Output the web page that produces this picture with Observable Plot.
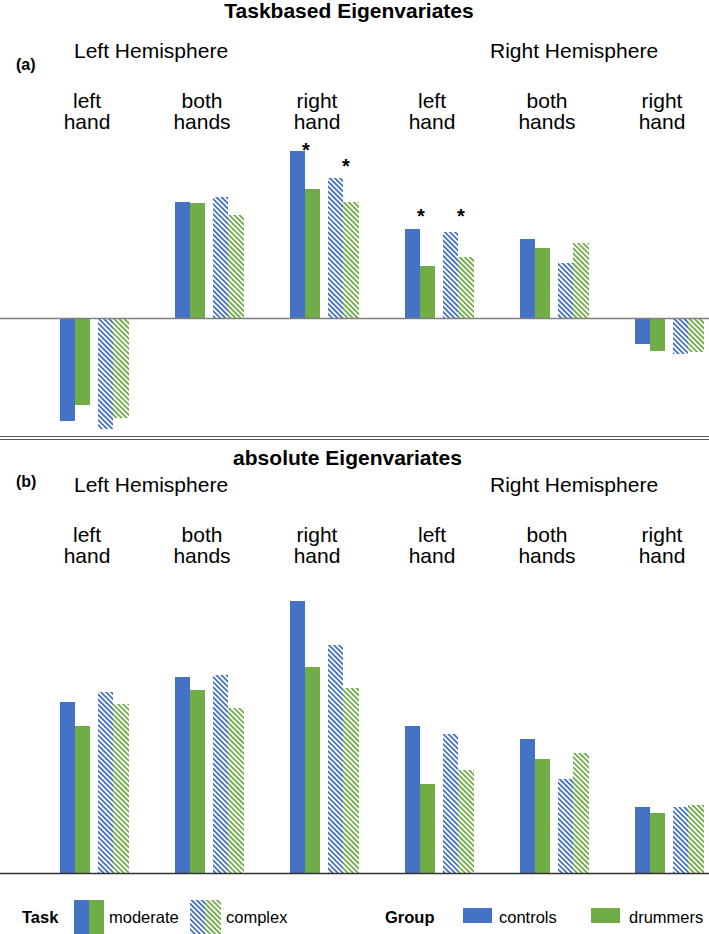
<!DOCTYPE html>
<html><head><meta charset="utf-8">
<script src="https://cdn.jsdelivr.net/npm/d3@7"></script>
<script src="https://cdn.jsdelivr.net/npm/@observablehq/plot@0.6"></script>
<style>
body{margin:0;background:#fff;overflow:hidden}
#page{position:relative;width:709px;height:934px;font-family:"Liberation Sans",Arial,Helvetica,sans-serif;color:#000;overflow:hidden}
.t{position:absolute;white-space:nowrap;line-height:1}
.b{font-weight:bold}
.panel{position:absolute;left:0}
</style></head><body>
<svg width="0" height="0" style="position:absolute">
  <defs>
    <pattern id="hatchBlue" patternUnits="userSpaceOnUse" width="3.6" height="3.6" patternTransform="rotate(-45)">
      <rect width="3.6" height="3.6" fill="#fff"/>
      <line x1="1.8" y1="-1" x2="1.8" y2="4.6" stroke="#4472C4" stroke-width="1.8"/>
    </pattern>
    <pattern id="hatchGreen" patternUnits="userSpaceOnUse" width="3.6" height="3.6" patternTransform="rotate(-45)">
      <rect width="3.6" height="3.6" fill="#fff"/>
      <line x1="1.8" y1="-1" x2="1.8" y2="4.6" stroke="#70AD47" stroke-width="1.8"/>
    </pattern>
  </defs>
</svg>
<div id="page"></div>
<script>
// ---- categories ----
const groups = ["LH left hand","LH both hands","LH right hand","RH left hand","RH both hands","RH right hand"];
const groupLabels = ["left\nhand","both\nhands","right\nhand","left\nhand","both\nhands","right\nhand"];
const tasks = ["moderate","complex"];
const cohorts = ["controls","drummers"];

// ---- (a) Taskbased Eigenvariates (arbitrary units) ----
const taskModerateControls = [-1.03, 1.16, 1.67, 0.89, 0.79, -0.26];
const taskModerateDrummers = [-0.87, 1.15, 1.29, 0.52, 0.70, -0.33];
const taskComplexControls  = [-1.11, 1.21, 1.40, 0.86, 0.55, -0.36];
const taskComplexDrummers  = [-1.00, 1.03, 1.16, 0.61, 0.75, -0.34];

// significance stars in panel (a)
const sigGroups = ["LH right hand","LH right hand","RH left hand","RH left hand"];
const sigTasks  = ["moderate","complex","moderate","complex"];
const sigValues = [1.73, 1.57, 1.07, 1.07];

// ---- (b) absolute Eigenvariates (arbitrary units) ----
const absModerateControls = [1.71, 1.96, 2.72, 1.47, 1.34, 0.66];
const absModerateDrummers = [1.47, 1.83, 2.06, 0.89, 1.14, 0.60];
const absComplexControls  = [1.81, 1.98, 2.28, 1.39, 0.94, 0.66];
const absComplexDrummers  = [1.69, 1.65, 1.85, 1.03, 1.20, 0.68];

const BLUE = "#4472C4", GREEN = "#70AD47";
const FONT = '"Liberation Sans",Arial,Helvetica,sans-serif';

function panel({series, yDomain, height, labelDy, ruleColor, stars}) {
  const styles = [
    {fill: BLUE, insetLeft: 23, insetRight: 77},
    {fill: GREEN, insetLeft: 38, insetRight: 62},
    {fill: "url(#hatchBlue)", insetLeft: 61, insetRight: 39},
    {fill: "url(#hatchGreen)", insetLeft: 76, insetRight: 23}
  ];
  const marks = series.map((vals, k) =>
    Plot.barY(vals, {x: (d, i) => groups[i], y: d => d, ...styles[k]})
  );
  marks.push(Plot.ruleY([0], {stroke: ruleColor, strokeWidth: 1.5}));
  marks.push(Plot.text(groupLabels, {
    x: (d, i) => groups[i], text: d => d, frameAnchor: "top", lineAnchor: "top",
    dy: labelDy, dx: -8, fontSize: 21, lineHeight: 1, fill: "#000"
  }));
  if (stars) {
    const dxs = {moderate: -19, complex: 21};
    for (const t of tasks) {
      marks.push(Plot.text(sigValues, {
        filter: (d, i) => sigTasks[i] === t,
        x: (d, i) => sigGroups[i], y: d => d, text: () => "*",
        dx: dxs[t], dy: 5, fontSize: 20, fontWeight: "bold", fill: "#000"
      }));
    }
  }
  return Plot.plot({
    width: 709, height,
    marginTop: 0, marginBottom: 0, marginLeft: 0, marginRight: 0,
    style: {fontFamily: FONT, background: "transparent", overflow: "visible"},
    x: {type: "band", domain: groups, range: [37, 727], padding: 0, axis: null},
    y: {domain: yDomain, axis: null},
    marks
  });
}

const page = document.getElementById("page");
function addText(txt, left, top, size, bold, center) {
  const el = document.createElement("div");
  el.className = "t" + (bold ? " b" : "");
  el.textContent = txt;
  el.style.left = left + "px";
  el.style.top = top + "px";
  el.style.fontSize = size + "px";
  if (center) el.style.transform = "translateX(-50%)";
  page.appendChild(el);
}

// Panel (a)
const pa = panel({
  series: [taskModerateControls, taskModerateDrummers, taskComplexControls, taskComplexDrummers],
  yDomain: [-1.17, 2.38], height: 355, labelDy: 13, ruleColor: "#7f7f7f", stars: true
});
pa.classList.add("panel"); pa.style.top = "80px";
page.appendChild(pa);

// Panel (b)
const pb = panel({
  series: [absModerateControls, absModerateDrummers, absComplexControls, absComplexDrummers],
  yDomain: [-0.08, 4.32], height: 440, labelDy: 86, ruleColor: "#333", stars: false
});
pb.classList.add("panel"); pb.style.top = "441px";
page.appendChild(pb);

// separator double line
const sep = document.createElement("div");
sep.style.cssText = "position:absolute;left:0;top:436px;width:709px;height:2px;border-top:1.5px solid #555;border-bottom:1.5px solid #555;";
page.appendChild(sep);

// titles and headings
addText("Taskbased Eigenvariates", 349, 0, 21, true, true);
addText("(a)", 16, 57, 16, true);
addText("Left Hemisphere", 74, 40.2, 21);
addText("Right Hemisphere", 490, 40.2, 21);
addText("absolute Eigenvariates", 347.5, 447.2, 21, true, true);
addText("(b)", 16, 474, 16, true);
addText("Left Hemisphere", 74, 474.2, 21);
addText("Right Hemisphere", 490, 474.2, 21);

// legend
const legendTop = 923 - 0.8465 * 16.5;
addText("Task", 22, legendTop, 16.5, true);
addText(tasks[0], 109, legendTop, 16.5);
addText(tasks[1], 226, legendTop, 16.5);
addText("Group", 385, legendTop, 16.5, true);
addText(cohorts[0], 499, legendTop, 16.5);
addText(cohorts[1], 629, legendTop, 16.5);
const lg = d3.create("svg").attr("width", 709).attr("height", 60)
  .style("position", "absolute").style("left", "0px").style("top", "874px");
const sw = [
  [74, 26, 15, 34, BLUE], [89, 26, 15, 34, GREEN],
  [190, 26, 15, 34, "url(#hatchBlue)"], [205, 26, 16, 34, "url(#hatchGreen)"],
  [463, 34, 29, 15, BLUE], [591, 34, 29, 15, GREEN]
];
lg.selectAll("rect").data(sw).join("rect")
  .attr("x", d => d[0]).attr("y", d => d[1]).attr("width", d => d[2]).attr("height", d => d[3])
  .attr("fill", d => d[4]);
page.appendChild(lg.node());
</script>
</body></html>
